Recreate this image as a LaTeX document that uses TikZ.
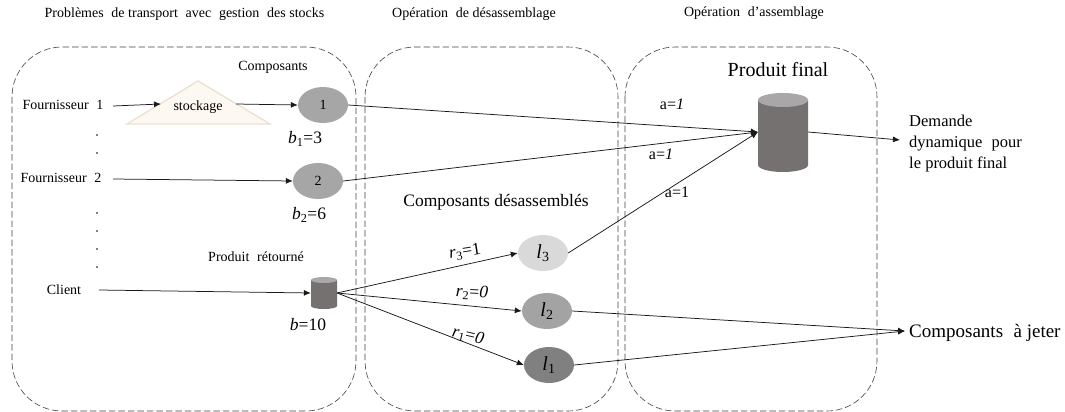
\documentclass[tikz,border=0pt]{standalone}
\usepackage{fontspec}
\setmainfont{Liberation Serif}
\usetikzlibrary{shapes.geometric,arrows.meta}
\definecolor{darkcyl}{HTML}{767171}
\definecolor{topcyl}{HTML}{A9A7A7}
\definecolor{creamfill}{HTML}{FDF8F1}
\definecolor{creamline}{HTML}{EBE1D4}
\newcommand{\fs}[1]{\fontsize{#1}{#1}\selectfont}
\newcommand{\gp}{\hspace{0.3em}}
\tikzset{
  x=1pt,y=-1pt,
  zone/.style={draw=black!75,dash pattern=on 6.5pt off 3pt,line width=0.6pt,rounded corners=50pt},
  arr/.style={draw=black!90,line width=0.75pt,-{Latex[length=7pt,width=6pt]}},
  lab/.style={inner sep=0pt,font=\fs{14}},
  mlab/.style={inner sep=0pt,font=\fs{17.5}},
  alab/.style={inner sep=0pt,font=\fs{16}},
  oval/.style={ellipse,minimum width=50pt,minimum height=36pt,inner sep=0pt,font=\fs{14}},
  lval/.style={oval,font=\fs{20}},
  box/.style={inner sep=0pt,draw=none},
}
\begin{document}
\begin{tikzpicture}
\useasboundingbox (0,0) rectangle (1065,412);
% zones
\draw[zone] (12,47) rectangle (356,411);
\draw[zone] (365,47) rectangle (618,411);
\draw[zone] (625,47) rectangle (877,411);
% titles
\node[lab] (t1) at (184.5,14) {Problèmes\gp{} de transport\gp{} avec\gp{} gestion\gp{} des stocks};
\node[lab] (t2) at (474,14) {Opération\gp{} de désassemblage};
\node[lab] (t3) at (754,13) {Opération\gp{} d’assemblage};
% sources
\node[lab] (f1) at (63,105) {Fournisseur\gp{} 1};
\node[lab] (f2) at (61,178) {Fournisseur\gp{} 2};
\node[lab] (cl) at (64,290) {Client};
\coordinate (f1o) at (113,106);
\coordinate (f2o) at (113,179);
\coordinate (clo) at (99,290);
\foreach \i/\y in {a/135,b/153,c/213,d/231,e/249,f/267}
  \fill (97,\y) circle (0.9pt);
% stockage
\draw[draw=creamline,fill=creamfill,line width=1.4pt,line join=miter] (198,81) -- (270,124) -- (127,124) -- cycle;
\node[lab] (st) at (198,107) {stockage};
\coordinate (sti) at (161,104);
\coordinate (sto) at (236,104);
% ellipses
\node[oval,fill=black!35] (n1) at (323,105) {1};
\node[oval,fill=black!35] (n2) at (318,181) {2};
\node[lval,fill=black!15] (l3) at (543,253) {\textit{l}\textsubscript{3}};
\node[lval,fill=black!36] (l2) at (547,311) {\textit{l}\textsubscript{2}};
\node[lval,fill=black!50] (l1) at (549,365) {\textit{l}\textsubscript{1}};
% cylinders
\node[box,minimum width=26pt,minimum height=32pt] (cb) at (324,293) {};
\node[box,minimum width=50pt,minimum height=79pt] (cf) at (783,132.5) {};
\fill[darkcyl] (311,280) -- (311,306) arc[start angle=180,end angle=360,x radius=13,y radius=-3] -- (337,280) -- cycle;
\fill[topcyl] (324,280) ellipse[x radius=13,y radius=3];
\fill[darkcyl] (758,100) -- (758,165) arc[start angle=180,end angle=360,x radius=25,y radius=-7] -- (808,100) -- cycle;
\fill[topcyl] (783,100) ellipse[x radius=25,y radius=7];
\coordinate (cfi) at (758,132);
\coordinate (cbo) at (337,293);
% labels
\node[lab] (comp) at (273,67) {Composants};
\node[mlab] (b1) at (305,139) {\textit{b}\textsubscript{1}=3};
\node[mlab] (b2) at (309,215) {\textit{b}\textsubscript{2}=6};
\node[lab] (pr) at (256,257) {Produit\gp{} rétourné};
\node[mlab] (b) at (308,325) {\textit{b}=10};
\node[inner sep=0pt,font=\fs{17.5}] (cd) at (496,202) {Composants désassemblés};
\node[mlab,rotate=9] (r3) at (465,252) {\textit{r}\textsubscript{3}=1};
\node[mlab,rotate=-3] (r2) at (472,293) {\textit{r}\textsubscript{2}=\textit{0}};
\node[mlab,rotate=-13] (r1) at (468,336) {\textit{r}\textsubscript{1}=\textit{0}};
\node[inner sep=0pt,font=\fs{20}] (pf) at (778,70) {Produit final};
\node[alab] (a1) at (672,104) {a=\textit{1}};
\node[alab] (a2) at (661,154) {a=\textit{1}};
\node[alab] (a3) at (677,192) {a=1};
\node[inner sep=0pt,font=\fontsize{16.5}{21}\selectfont,anchor=north west,align=left] (dem) at (909,114.5) {Demande\\dynamique\gp{} pour\\le produit final};
\node[inner sep=0pt,font=\fs{19},anchor=west] (cj) at (909,333) {Composants\gp{} à\ jeter};
\coordinate (demi) at (900,140);
\coordinate (cji) at (905,331);
% connectors
\draw[arr] (f1o) -- (sti);
\draw[arr] (sto) -- (n1.west);
\draw[arr] (f2o) -- (n2.west);
\draw[arr] (clo) -- (cb.west);
\draw[arr] (n1.east) -- (cfi);
\draw[arr] (n2.east) -- (cfi);
\draw[arr] (l3.east) -- (cfi);
\draw[arr] (cfi -| cf.east) -- (demi);
\draw[arr] (cbo) -- (l3.west);
\draw[arr] (cbo) -- (l2.west);
\draw[arr] (cbo) -- (l1.west);
\draw[arr] (l2.east) -- (cji);
\draw[arr] (l1.east) -- (cji);
\end{tikzpicture}
\end{document}
